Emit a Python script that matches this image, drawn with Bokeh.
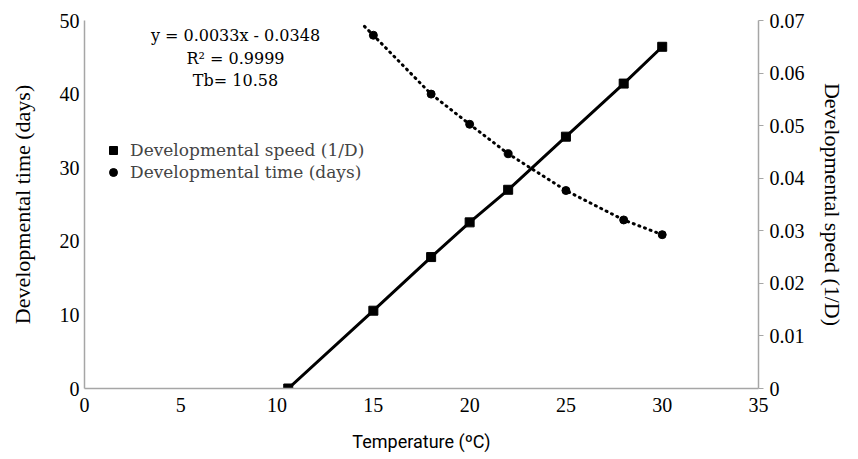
from bokeh.plotting import figure
from bokeh.models import Range1d, LinearAxis, Legend, LegendItem, Label, FixedTicker, CustomJSTickFormatter
from bokeh.embed import file_html
from bokeh.resources import INLINE

# Data
temp_speed = [10.58, 15, 18, 20, 22, 25, 28, 30]
dev_speed = [0.0, 0.0148, 0.0250, 0.0316, 0.0378, 0.0479, 0.0580, 0.0650]
temp_time = [15, 18, 20, 22, 25, 28, 30]
dev_time = [48.0, 40.0, 35.9, 31.9, 26.9, 22.9, 20.9]
trend_x = [14.54, 15, 18, 20, 22, 25, 28, 30]
trend_y = [49.2, 48.0, 40.0, 35.9, 31.9, 26.9, 22.9, 20.9]
x_ticks = [0, 5, 10, 15, 20, 25, 30, 35]
left_ticks = [0, 10, 20, 30, 40, 50]
right_ticks = [0, 0.01, 0.02, 0.03, 0.04, 0.05, 0.06, 0.07]
annotation_lines = ["y = 0.0033x - 0.0348", "R\u00b2 = 0.9999", "Tb= 10.58"]
left_title = "Developmental time (days)"
right_title = "Developmental speed (1/D)"
x_title = "Temperature (\u00baC)"

AXIS_GRAY = "#a6a6a6"
SERIF = "Liberation Serif"
CAMBRIA = "DejaVu Serif"

p = figure(width=850, height=451, frame_width=674, frame_height=368,
           x_range=Range1d(0, 35), y_range=Range1d(0, 50),
           output_backend="svg", toolbar_location=None,
           min_border_left=84, min_border_top=20, min_border_right=92, min_border_bottom=63)
p.extra_y_ranges = {"speed": Range1d(0, 0.07)}
p.outline_line_color = None
p.xgrid.visible = False
p.ygrid.visible = False
p.background_fill_color = "white"


def style_axis(ax):
    ax.axis_line_color = AXIS_GRAY
    ax.axis_line_width = 1.5
    ax.major_tick_out = 0
    ax.major_tick_in = 0
    ax.minor_tick_out = 0
    ax.minor_tick_in = 0
    ax.major_label_text_font = SERIF
    ax.major_label_text_font_size = "20px"
    ax.major_label_text_color = "black"
    ax.axis_label_text_font_style = "normal"
    ax.axis_label_text_color = "black"


style_axis(p.xaxis[0])
style_axis(p.yaxis[0])

p.xaxis.ticker = FixedTicker(ticks=x_ticks)
p.xaxis.major_label_standoff = 9
p.xaxis.axis_label = x_title
p.xaxis.axis_label_text_font = "Roboto"
p.xaxis.axis_label_text_font_size = "18px"
p.xaxis.axis_label_standoff = 16

p.yaxis.ticker = FixedTicker(ticks=left_ticks)
p.yaxis.major_label_standoff = 5
p.yaxis.axis_label = left_title
p.yaxis.axis_label_text_font = SERIF
p.yaxis.axis_label_text_font_size = "22px"
p.yaxis.axis_label_standoff = 22

right = LinearAxis(y_range_name="speed", ticker=FixedTicker(ticks=right_ticks),
                   formatter=CustomJSTickFormatter(code="return tick == 0 ? '0' : tick.toFixed(2);"))
style_axis(right)
right.major_tick_out = 5
right.major_tick_line_color = AXIS_GRAY
right.major_label_standoff = 6
right.axis_label = right_title
right.axis_label_text_font = SERIF
right.axis_label_text_font_size = "22px"
right.axis_label_standoff = 12
p.add_layout(right, "right")

# series
p.line(trend_x, trend_y, line_color="black", line_width=3, line_dash="1 5", line_cap="round")
r_time = p.scatter(temp_time, dev_time, marker="circle", size=8, fill_color="black", line_color="black")

p.line(temp_speed, dev_speed, y_range_name="speed", line_color="black", line_width=3)
r_speed = p.scatter(temp_speed, dev_speed, y_range_name="speed", marker="square", size=9,
                    fill_color="black", line_color="black")

legend = Legend(items=[LegendItem(label="Developmental speed (1/D)", renderers=[r_speed]),
                       LegendItem(label="Developmental time (days)", renderers=[r_time])],
                location=(19, 205), padding=0, margin=0, spacing=0,
                border_line_color=None, background_fill_alpha=0,
                label_text_font=CAMBRIA, label_text_font_size="17px",
                label_height=22, glyph_height=22, glyph_width=20, label_standoff=7)
p.add_layout(legend, "center")

ann_y = [47.9, 44.8, 41.9]
for txt, yy in zip(annotation_lines, ann_y):
    p.add_layout(Label(x=7.84, y=yy, text=txt, text_align="center", text_baseline="middle",
                       text_font=CAMBRIA, text_font_size="16px", text_color="black"))

open("out.html", "w").write(file_html(p, INLINE))
